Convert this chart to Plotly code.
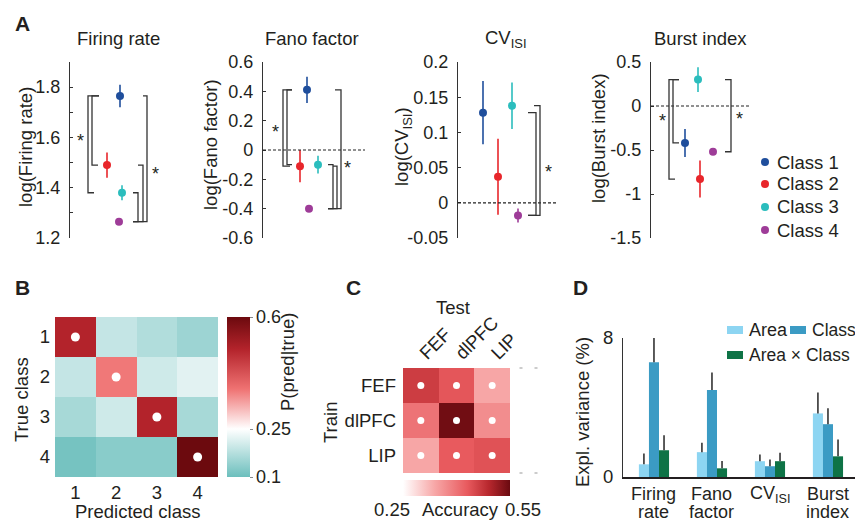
import plotly.graph_objects as go

# The page body keeps an 8px margin, so page pixel p is figure pixel p - 8.
OFF = 8
W, H = 863 - OFF, 523 - OFF
def fx(p): return (p - OFF) / W
def fy(p): return 1 - (p - OFF) / H

FONT = "Liberation Sans, Arial, Helvetica, sans-serif"
TXT = "#231f20"

# ---------------- data ----------------
classes = ["Class 1", "Class 2", "Class 3", "Class 4"]
class_colors = ["#1f4e9c", "#e8262b", "#2bbdbd", "#9e3c98"]

metric_titles = ["Firing rate", "Fano factor", "CV<sub>ISI</sub>", "Burst index"]
metric_ylabels = ["log(Firing rate)", "log(Fano factor)", "log(CV<sub>ISI</sub>)", "log(Burst index)"]

firing_mean = [1.765, 1.49, 1.38, 1.265]
firing_err = [0.045, 0.05, 0.03, 0.008]
fano_mean = [0.41, -0.11, -0.10, -0.40]
fano_err = [0.09, 0.11, 0.06, 0.015]
cv_mean = [0.128, 0.037, 0.138, -0.018]
cv_err = [0.045, 0.054, 0.033, 0.010]
burst_mean = [-0.42, -0.83, 0.30, -0.52]
burst_err = [0.16, 0.21, 0.14, 0.03]

a_means = [firing_mean, fano_mean, cv_mean, burst_mean]
a_errs = [firing_err, fano_err, cv_err, burst_err]

a_yranges = [[1.2, 1.9], [-0.6, 0.6], [-0.05, 0.2], [-1.5, 0.5]]
a_tickvals = [[1.2, 1.4, 1.6, 1.8],
              [-0.6, -0.4, -0.2, 0, 0.2, 0.4, 0.6],
              [-0.05, 0, 0.05, 0.1, 0.15, 0.2],
              [-1.5, -1, -0.5, 0, 0.5]]
a_ticktext = [["1.2", "1.4", "1.6", "1.8"],
              ["-0.6", "-0.4", "-0.2", "0", "0.2", "0.4", "0.6"],
              ["-0.05", "0", "0.05", "0.1", "0.15", "0.2"],
              ["-1.5", "-1", "-0.5", "0", "0.5"]]
a_minor_ticks = [[1.3, 1.5, 1.7, 1.9], [], [], []]

conf_labels = ["1", "2", "3", "4"]
conf_matrix = [[0.50, 0.19, 0.17, 0.15],
               [0.19, 0.37, 0.20, 0.22],
               [0.16, 0.20, 0.50, 0.16],
               [0.11, 0.13, 0.13, 0.60]]

areas = ["FEF", "dlPFC", "LIP"]
cross_acc = [[0.465, 0.435, 0.34],
             [0.40, 0.545, 0.37],
             [0.34, 0.43, 0.44]]

d_metrics = ["Firing rate", "Fano factor", "CV ISI", "Burst index"]
d_tick_lines = [["Firing", "rate"], ["Fano", "factor"], ["CV<sub>ISI</sub>"], ["Burst", "index"]]
ev_area = [0.73, 1.43, 0.91, 3.66]
ev_area_err = [0.62, 0.54, 0.38, 1.20]
ev_class = [6.61, 5.01, 0.62, 3.04]
ev_class_err = [1.39, 1.00, 0.38, 0.91]
ev_inter = [1.54, 0.50, 0.91, 1.19]
ev_inter_err = [0.87, 0.42, 0.48, 0.97]
d_series = ["Area", "Class", "Area × Class"]
d_colors = ["#8dd5f2", "#3b9bc4", "#0e7346"]

# ---------------- layout positions (page pixels) ----------------
a_axis_px = [70, 263, 458, 651]
a_width_px = [95, 102, 99, 99]
a_top, a_bot = 62, 238
a_point_x = [[50, 37, 52, 49], [44, 37, 55, 46], [25, 40, 54, 60], [34, 49, 47, 62]]
a_zero = [False, True, True, True]
# (class_a, class_b, x_vertical, tip_a, tip_b)
a_brackets = [
    [(0, 2, 18, 29, 24), (0, 1, 22, 29, 28), (0, 3, 77, 73, 63), (1, 3, 73, 68, 63), (2, 3, 68, 63, 63)],
    [(0, 1, 20, 29, 27), (0, 2, 24, 29, 29), (0, 3, 78, 72, 65), (1, 3, 74, 70, 65), (2, 3, 70, 65, 65)],
    [(2, 3, 82, 76, 70), (0, 3, 78, 70, 70)],
    [(2, 1, 18, 28, 24), (2, 0, 22, 28, 28), (2, 3, 80, 74, 74)],
]
a_stars = [[(10, 1.6), (85, 1.47)], [(12, 0.15), (84, -0.095)], [(90, 0.05)], [(11, -0.12), (88, -0.1)]]
a_title_x = [119, 312, 506, 700]
a_ylabel_x = [25, 210, 403, 598]
a_ylabel_y = [147, 145, 147, 138]

fig = go.Figure()
shapes = []
annotations = []

def ann(text, x, y, size=18.5, **kw):
    d = dict(text=text, x=fx(x), y=fy(y), xref="paper", yref="paper", showarrow=False,
             font=dict(family=FONT, size=size, color=TXT), xanchor="center", yanchor="middle")
    d.update(kw)
    annotations.append(d)

# ---------------- Panel A ----------------
for k in range(4):
    ax = "" if k == 0 else str(k + 1)
    xr, yr = "x" + ax, "y" + ax
    for c in range(4):
        fig.add_trace(go.Scatter(
            x=[a_point_x[k][c]], y=[a_means[k][c]], mode="markers", xaxis=xr, yaxis=yr,
            marker=dict(color=class_colors[c], size=8),
            error_y=dict(type="data", array=[a_errs[k][c]], color=class_colors[c], thickness=1.6, width=0),
            showlegend=False, name=classes[c]))
    yax = dict(domain=[fy(a_bot), fy(a_top)], range=a_yranges[k], anchor=xr,
               showline=True, linecolor="#333", linewidth=1.2, ticks="inside", ticklen=3,
               tickcolor="#333", tickvals=a_tickvals[k], ticktext=a_ticktext[k],
               showgrid=False, zeroline=False, ticklabelstandoff=5,
               tickfont=dict(family=FONT, size=18, color=TXT))
    if a_minor_ticks[k]:
        yax["minor"] = dict(tickvals=a_minor_ticks[k], ticks="inside", ticklen=3,
                            tickcolor="#333", showgrid=False)
    fig.update_layout(**{
        "xaxis" + ax: dict(domain=[fx(a_axis_px[k]), fx(a_axis_px[k] + a_width_px[k])],
                           range=[0, a_width_px[k]], visible=False, anchor=yr),
        "yaxis" + ax: yax,
    })
    if a_zero[k]:
        shapes.append(dict(type="line", xref=xr, yref=yr, x0=0, x1=a_width_px[k], y0=0, y1=0,
                           line=dict(color="#222", width=1.2, dash="3px,2px")))
    m = a_means[k]
    for (ca, cb, xv, ta, tb) in a_brackets[k]:
        path = f"M {ta} {m[ca]} L {xv} {m[ca]} L {xv} {m[cb]} L {tb} {m[cb]}"
        shapes.append(dict(type="path", xref=xr, yref=yr, path=path,
                           line=dict(color="#333", width=1.3)))
    for (sx, sy) in a_stars[k]:
        annotations.append(dict(text="*", x=sx, y=sy, xref=xr, yref=yr, showarrow=False,
                                xanchor="center", yanchor="middle",
                                font=dict(family=FONT, size=18, color=TXT), yshift=-4))
    ann(metric_titles[k], a_title_x[k], 39)
    ann(metric_ylabels[k], a_ylabel_x[k], a_ylabel_y[k], textangle=-90)

# legend A
legA_y = [162, 184, 207, 230]
for c in range(4):
    shapes.append(dict(type="circle", xref="paper", yref="paper",
                       x0=fx(761), x1=fx(769), y0=fy(legA_y[c] + 4), y1=fy(legA_y[c] - 4),
                       fillcolor=class_colors[c], line=dict(width=0)))
    ann(classes[c], 775, legA_y[c], xanchor="left")

# ---------------- Panel B ----------------
b_colorscale = [[0, "#6cbfbd"], [0.3, "#ffffff"], [0.55, "#ef7272"], [0.8, "#b3232b"], [1, "#6c0a0e"]]
fig.add_trace(go.Heatmap(
    z=conf_matrix, x=conf_labels, y=conf_labels, xaxis="x5", yaxis="y5",
    zmin=0.1, zmax=0.6, colorscale=b_colorscale, showscale=True, hoverinfo="skip",
    colorbar=dict(x=fx(227), xanchor="left", y=fy(397), yanchor="middle", len=160 / H,
                  lenmode="fraction", thickness=23, thicknessmode="pixels", xpad=0, ypad=0,
                  outlinewidth=0, tickvals=[0.1, 0.25, 0.6], ticktext=["0.1", "0.25", "0.6"],
                  ticks="outside", ticklen=3, tickcolor="#888",
                  tickfont=dict(family=FONT, size=18, color=TXT))))
fig.add_trace(go.Scatter(x=conf_labels, y=conf_labels, mode="markers", xaxis="x5", yaxis="y5",
                         marker=dict(color="white", size=9), showlegend=False, hoverinfo="skip"))
fig.update_layout(
    xaxis5=dict(domain=[fx(55), fx(218)], anchor="y5", showline=False, ticks="", showgrid=False,
                zeroline=False, ticklabelstandoff=2, tickfont=dict(family=FONT, size=18.5, color=TXT)),
    yaxis5=dict(domain=[fy(477), fy(317)], anchor="x5", autorange="reversed", showline=False,
                ticks="", showgrid=False, zeroline=False, ticklabelstandoff=4,
                tickfont=dict(family=FONT, size=18.5, color=TXT)),
)
ann("Predicted class", 137, 511)
ann("True class", 21, 400, textangle=-90)
ann("P(pred|true)", 287, 362, textangle=-90)

# ---------------- Panel C ----------------
c_colorscale = [[0, "#ffffff"], [0.3, "#f7a6a6"], [0.6, "#e85a5e"], [0.8, "#b8282e"], [1, "#6a0a10"]]
fig.add_trace(go.Heatmap(
    z=cross_acc, x=areas, y=areas, xaxis="x6", yaxis="y6", zmin=0.25, zmax=0.55,
    colorscale=c_colorscale, showscale=True, hoverinfo="skip",
    colorbar=dict(orientation="h", x=fx(456.5), xanchor="center", y=fy(480), yanchor="top",
                  len=107 / W, lenmode="fraction", thickness=16, thicknessmode="pixels",
                  xpad=0, ypad=0, outlinewidth=0, showticklabels=False, ticks="")))
fig.add_trace(go.Scatter(x=[a for a in areas for _ in areas], y=[b for _ in areas for b in areas],
                         mode="markers", xaxis="x6", yaxis="y6",
                         marker=dict(color="white", size=7), showlegend=False, hoverinfo="skip"))
fig.update_layout(
    xaxis6=dict(domain=[fx(403), fx(510)], anchor="y6", side="top", tickangle=-45, showline=False,
                ticks="", showgrid=False, zeroline=False,
                tickfont=dict(family=FONT, size=18.5, color=TXT)),
    yaxis6=dict(domain=[fy(473), fy(368)], anchor="x6", autorange="reversed", showline=False,
                ticks="", showgrid=False, zeroline=False, ticklabelstandoff=6,
                tickfont=dict(family=FONT, size=18.5, color=TXT)),
)
ann("Test", 453, 307)
ann("Train", 330, 423, textangle=-90)
ann("0.25", 392, 509)
ann("Accuracy", 460, 509)
ann("0.55", 523, 509)
for (dx, dy) in [(521, 368), (536, 368), (521, 473), (536, 473)]:
    shapes.append(dict(type="line", xref="paper", yref="paper", x0=fx(dx - 1.5), x1=fx(dx + 1.5),
                       y0=fy(dy), y1=fy(dy), line=dict(color="#999", width=1)))

# ---------------- Panel D ----------------
for vals, errs, name, col in [(ev_area, ev_area_err, d_series[0], d_colors[0]),
                              (ev_class, ev_class_err, d_series[1], d_colors[1]),
                              (ev_inter, ev_inter_err, d_series[2], d_colors[2])]:
    fig.add_trace(go.Bar(x=d_metrics, y=vals, name=name, marker=dict(color=col, line=dict(width=0)),
                         xaxis="x7", yaxis="y7", showlegend=False,
                         error_y=dict(type="data", array=errs, arrayminus=[0] * len(errs),
                                      symmetric=False, color="#333", thickness=1.6, width=0)))
d_left, d_right = 623, 862
fig.update_layout(
    barmode="group", bargap=0.48, bargroupgap=0,
    xaxis7=dict(domain=[fx(d_left), fx(d_right)], anchor="y7",
                range=[-0.534, -0.534 + (d_right - d_left) / 58.0], showline=True,
                linecolor="#231f20", linewidth=2.2, ticks="", showgrid=False, zeroline=False,
                showticklabels=False),
    yaxis7=dict(domain=[fy(477), fy(338)], anchor="x7", range=[0, 8], showline=True,
                linecolor="#333", linewidth=1.2, ticks="inside", ticklen=3, tickcolor="#333",
                tickvals=[0, 8], showgrid=False, zeroline=False, ticklabelstandoff=5,
                tickfont=dict(family=FONT, size=18.5, color=TXT)),
)
# two-line category labels under the bars
d_line_y = [494, 512]
for cat, lines in zip(d_metrics, d_tick_lines):
    for li, txt in enumerate(lines):
        annotations.append(dict(text=txt, x=cat, y=fy(d_line_y[li]), xref="x7", yref="paper",
                                showarrow=False, xanchor="center", yanchor="middle",
                                font=dict(family=FONT, size=18, color=TXT)))
ann("Expl. variance (%)", 582, 412, textangle=-90)
leg_d = [(727, 330, 0, 18), (790, 330, 1, 17.5), (727, 355, 2, 17.5)]
for (lx, ly, i, fs) in leg_d:
    shapes.append(dict(type="rect", xref="paper", yref="paper", x0=fx(lx), x1=fx(lx + 16),
                       y0=fy(ly + 4), y1=fy(ly - 4), fillcolor=d_colors[i], line=dict(width=0)))
    ann(d_series[i], lx + 20, ly, size=fs, xanchor="left")

# panel letters
for letter, x, y in [("A", 22, 24), ("B", 22, 287), ("C", 353, 287), ("D", 580, 287)]:
    ann(f"<b>{letter}</b>", x, y, size=21)

fig.update_layout(width=W, height=H, margin=dict(l=0, r=0, t=0, b=0, pad=0, autoexpand=False),
                  autosize=False, plot_bgcolor="white", paper_bgcolor="white", showlegend=False,
                  shapes=shapes, annotations=annotations, font=dict(family=FONT, color=TXT))

fig.write_html("out.html", config={"responsive": False, "displayModeBar": False})
